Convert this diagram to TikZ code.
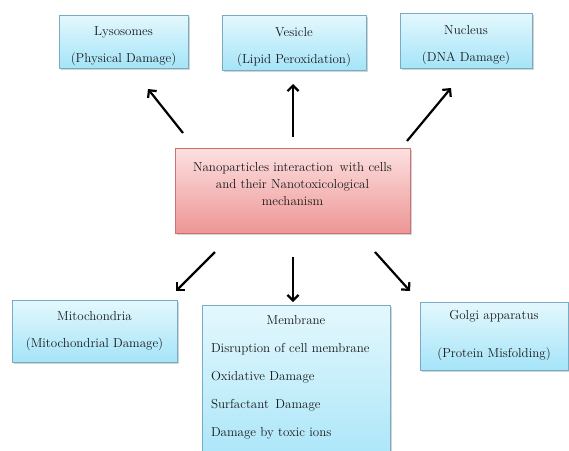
\documentclass[tikz,border=0pt]{standalone}
\usetikzlibrary{arrows.meta,shadows}

\definecolor{boxtop}{RGB}{228,248,253}
\definecolor{boxbot}{RGB}{165,228,248}
\definecolor{boxline}{RGB}{120,172,196}
\definecolor{mechtop}{RGB}{252,224,224}
\definecolor{mechbot}{RGB}{238,150,150}
\definecolor{mechline}{RGB}{205,112,112}
\definecolor{txt}{RGB}{25,25,25}

\begin{document}
\begin{tikzpicture}[x=1pt,y=-1pt]
    \tikzstyle{cell}=[draw=boxline,line width=0.6pt,top color=boxtop,bottom color=boxbot,
        drop shadow={opacity=0.35,shadow xshift=1.5pt,shadow yshift=-1.5pt},
        text=txt,align=center,inner sep=0pt,font=\fontsize{13}{27}\selectfont]
    \tikzstyle{arr}=[line width=2.2pt,-{Straight Barb[length=5.5pt,width=11pt]}]
    \useasboundingbox (0,0) rectangle (569,450);

    % organelles above
    \node[cell,text height=45pt,minimum width=129,minimum height=53] (lyso) at (123.5,41.5) {Lysosomes\\(Physical Damage)};
    \node[cell,text height=45pt,minimum width=144,minimum height=55] (vesi) at (294,42.5) {Vesicle\\(Lipid Peroxidation)};
    \node[cell,text height=45pt,minimum width=132,minimum height=55] (nucl) at (466,40.5) {Nucleus\\(DNA Damage)};

    % centre
    \node[cell,draw=mechline,top color=mechtop,bottom color=mechbot,font=\fontsize{13}{17}\selectfont,
        text depth=14pt,minimum width=235,minimum height=85] (mech) at (292.5,190.5)
        {Nanoparticles interaction\, with cells\\and their Nanotoxicological\\mechanism};

    % organelles below
    \node[cell,minimum width=165,minimum height=62] (mito) at (94.5,331) {Mitochondria\\(Mitochondrial Damage)};
    \node[cell,font=\fontsize{13}{38}\selectfont,minimum width=148,minimum height=68] (golgi) at (494,336)
        {Golgi apparatus\\(Protein Misfolding)};
    \node[cell,anchor=north,align=left,text width=170pt,inner xsep=9pt,inner ysep=10pt,text depth=140pt,
        font=\fontsize{13}{28}\selectfont] (memb) at (296,305)
        {\hfill Membrane\hfill\null\\Disruption of cell membrane\\Oxidative Damage\\Surfactant\, Damage\\Damage by toxic ions};

    \foreach \name/\x/\y in {S-1/183/133, E-1/148/89, S-2/293/137, E-2/293/84, S-3/407/141, E-3/451/88,
                             S-4/215/252, E-4/176/291, S-5/293/257, E-5/293/302, S-6/375/252, E-6/410/291}
        \coordinate (\name) at (\x,\y);

    \foreach \i in {1,...,6}
        \draw[arr] (S-\i) -- (E-\i);
\end{tikzpicture}
\end{document}
